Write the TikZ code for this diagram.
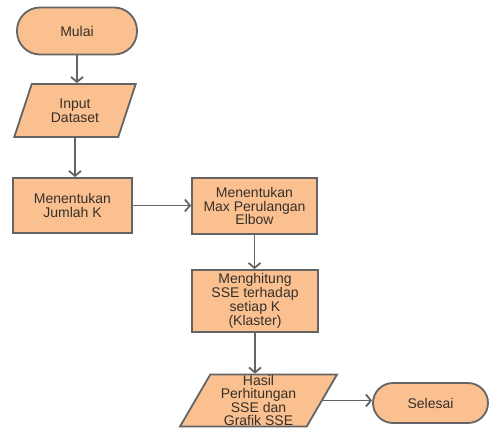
\documentclass[tikz,border=0pt]{standalone}
\usepackage{fontspec}
\setmainfont{Liberation Sans}
\usetikzlibrary{shapes.geometric,arrows.meta}
\definecolor{boxfill}{RGB}{250,192,144}
\definecolor{boxline}{RGB}{100,100,100}
\definecolor{txt}{RGB}{55,48,42}
\tikzset{
  x=1pt,y=-1pt,
  base/.style={draw=boxline,fill=boxfill,line width=1.8pt,text=txt,align=center,
    font=\fontsize{14}{13.8}\selectfont,inner sep=0pt},
  term/.style={base,rectangle,rounded corners=#1},
  procbox/.style={base,rectangle},
  iobox/.style={base,trapezium,trapezium stretches=true,trapezium left angle=#1,trapezium right angle=180-#1},
  conn/.style={draw=boxline,line width=1.8pt,-{Straight Barb[length=5pt,width=12pt,line width=1.8pt]}}
}
\begin{document}
\begin{tikzpicture}
\useasboundingbox (0,0) rectangle (489,428);
\node[term=23pt,minimum width=120pt,minimum height=47pt] (mulai) at (77,31) {Mulai};
\node[iobox=67.5,minimum width=122pt,minimum height=53pt] (input) at (75,110.5) {Input\\Dataset};
\node[procbox,minimum width=119pt,minimum height=55pt] (jumlah) at (72.5,205.5) {Menentukan\\Jumlah K};
\node[procbox,minimum width=125pt,minimum height=56pt] (max) at (254.5,206) {Menentukan\\Max Perulangan\\Elbow};
\node[procbox,minimum width=126pt,minimum height=62pt] (hitung) at (255,301) {Menghitung\\SSE terhadap\\setiap K\\(Klaster)};
\node[iobox=64.7,minimum width=157pt,minimum height=52pt,font=\fontsize{14}{13.3}\selectfont] (hasil) at (258.5,400.5) {Hasil\\Perhitungan\\SSE dan\\Grafik SSE};
\node[term=20pt,minimum width=115pt,minimum height=40pt] (selesai) at (430.5,403) {Selesai};
\draw[conn] (mulai.south) -- (mulai.south |- input.north);
\draw[conn] (input.south) -- (input.south |- jumlah.north);
\draw[conn] (jumlah.east) -- (jumlah.east -| max.west);
\draw[conn] (max.south) -- (max.south |- hitung.north);
\draw[conn] (hitung.south) -- (hitung.south |- hasil.north);
\draw[conn] (hasil.east) -- (hasil.east -| selesai.west);
\end{tikzpicture}
\end{document}
